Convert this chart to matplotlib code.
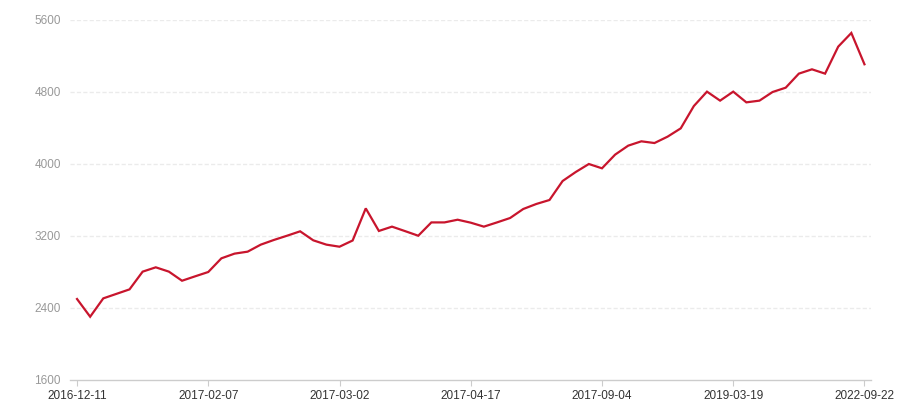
import matplotlib
matplotlib.use("Agg")
import matplotlib.pyplot as plt
from matplotlib.ticker import FixedLocator

values = [2500, 2303, 2507, 2557, 2607, 2804, 2852, 2804, 2703, 2752,
          2800, 2952, 3004, 3026, 3104, 3156, 3203, 3252, 3152, 3104,
          3081, 3150, 3507, 3256, 3304, 3254, 3203, 3351, 3351, 3381,
          3348, 3304, 3351, 3400, 3500, 3556, 3600, 3811, 3911, 4000,
          3952, 4104, 4204, 4252, 4233, 4304, 4396, 4644, 4804, 4704,
          4804, 4685, 4704, 4800, 4848, 5004, 5052, 5004, 5304, 5456,
          5108]
tick_labels = ["2016-12-11", "2017-02-07", "2017-03-02", "2017-04-17",
               "2017-09-04", "2019-03-19", "2022-09-22"]
tick_every = 10
y_ticks = [1600, 2400, 3200, 4000, 4800, 5600]

plt.rcParams['font.family'] = ['Liberation Sans', 'DejaVu Sans']

fig = plt.figure(figsize=(9, 4), dpi=100)
ax = fig.add_axes([0.0783, 0.05, 0.8895, 0.90])

x = list(range(len(values)))
ax.plot(x, values, color="#c8152d", lw=1.6, solid_joinstyle="miter")

ax.set_xlim(-0.5, len(values) - 0.5)
ax.set_ylim(y_ticks[0], y_ticks[-1])
ax.set_yticks(y_ticks)
ax.set_yticklabels([str(v) for v in y_ticks])
ax.xaxis.set_major_locator(FixedLocator([i * tick_every for i in range(len(tick_labels))]))
ax.set_xticklabels(tick_labels)

for v in y_ticks[1:]:
    ax.axhline(v, color="#ebebeb", lw=1, ls=(0, (3, 1.6)), zorder=0)

for s in ["top", "right", "left"]:
    ax.spines[s].set_visible(False)
ax.spines["bottom"].set_color("#cccccc")
ax.spines["bottom"].set_linewidth(1)

ax.tick_params(axis="y", length=0, pad=7, labelsize=8.5, labelcolor="#999999")
ax.tick_params(axis="x", length=4, color="#cccccc", pad=3, labelsize=8.5, labelcolor="#333333")

fig.savefig("out.png", dpi=100)
